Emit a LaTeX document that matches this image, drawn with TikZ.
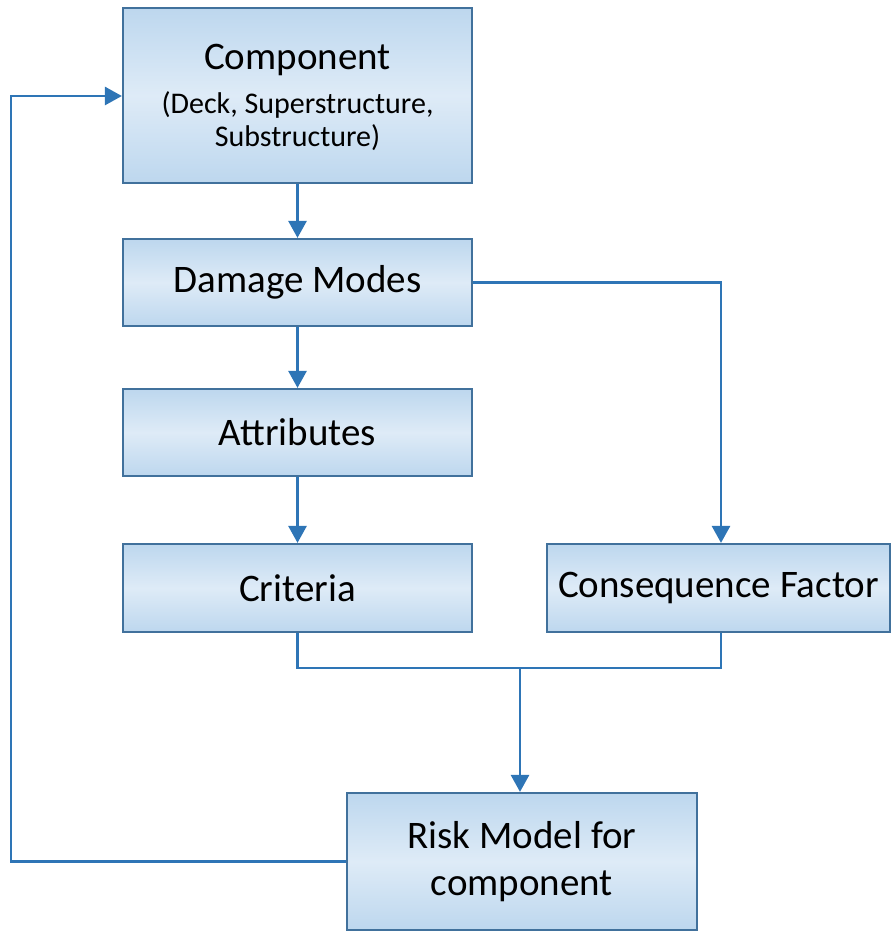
\documentclass[tikz,border=0pt]{standalone}
\usepackage{fontspec}
\setmainfont{Carlito}
\usetikzlibrary{arrows.meta}
\definecolor{boxedge}{HTML}{41719C}
\definecolor{boxdark}{HTML}{BDD7EE}
\definecolor{boxlight}{HTML}{DEEBF7}
\definecolor{linkc}{HTML}{2E75B6}
\tikzset{
  x=1pt, y=-1pt,
  stepbox/.style={draw=boxedge, line width=2.2pt, top color=boxdark, bottom color=boxdark, middle color=boxlight,
    minimum width=349pt, inner sep=0pt, align=center, font=\fontsize{39}{47}\selectfont},
  link/.style={draw=linkc, line width=2.8pt},
  arr/.style={link, -{Triangle[length=17pt,width=18pt]}},
}
\begin{document}
\begin{tikzpicture}
\useasboundingbox (0,0) rectangle (891,931);
\node[stepbox, minimum height=175pt] (comp) at (297.5,95.5) {};
\node[font=\fontsize{39}{44}\selectfont] (compt) at (297.5,60) {Component};
\node[font=\fontsize{30}{33}\selectfont, align=center] (comps) at (297.5,121) {(Deck, Superstructure,\\Substructure)};
\node[stepbox, minimum height=87pt] (dm) at (297.5,282.5) {Damage Modes};
\node[stepbox, minimum height=87pt] (attr) at (297.5,432.5) {Attributes};
\node[stepbox, minimum height=88pt] (crit) at (297.5,588) {Criteria};
\node[stepbox, minimum height=88pt, minimum width=343pt] (cons) at (718.5,588) {Consequence Factor};
\node[stepbox, minimum height=137pt, minimum width=350pt] (risk) at (522,861.5) {Risk Model for\\component};
\coordinate (j1) at (297.5,668);
\coordinate (j2) at (721,668);
\coordinate (jm) at (520,668);
\coordinate (dr) at (721,282.5);
\coordinate (l1) at (11,861.5);
\coordinate (l2) at (11,96);
\draw[arr] (comp.south) -- (dm.north);
\draw[arr] (dm.south) -- (attr.north);
\draw[arr] (attr.south) -- (crit.north);
\draw[arr] (dm.east) -- (dr) -- (dr |- cons.north);
\draw[link] (crit.south) -- (j1) -- (j2) -- (j2 |- cons.south);
\draw[arr] (jm) -- (jm |- risk.north);
\draw[arr] (risk.west) -- (l1) -- (l2) -- (l2 -| comp.west);
\end{tikzpicture}
\end{document}
